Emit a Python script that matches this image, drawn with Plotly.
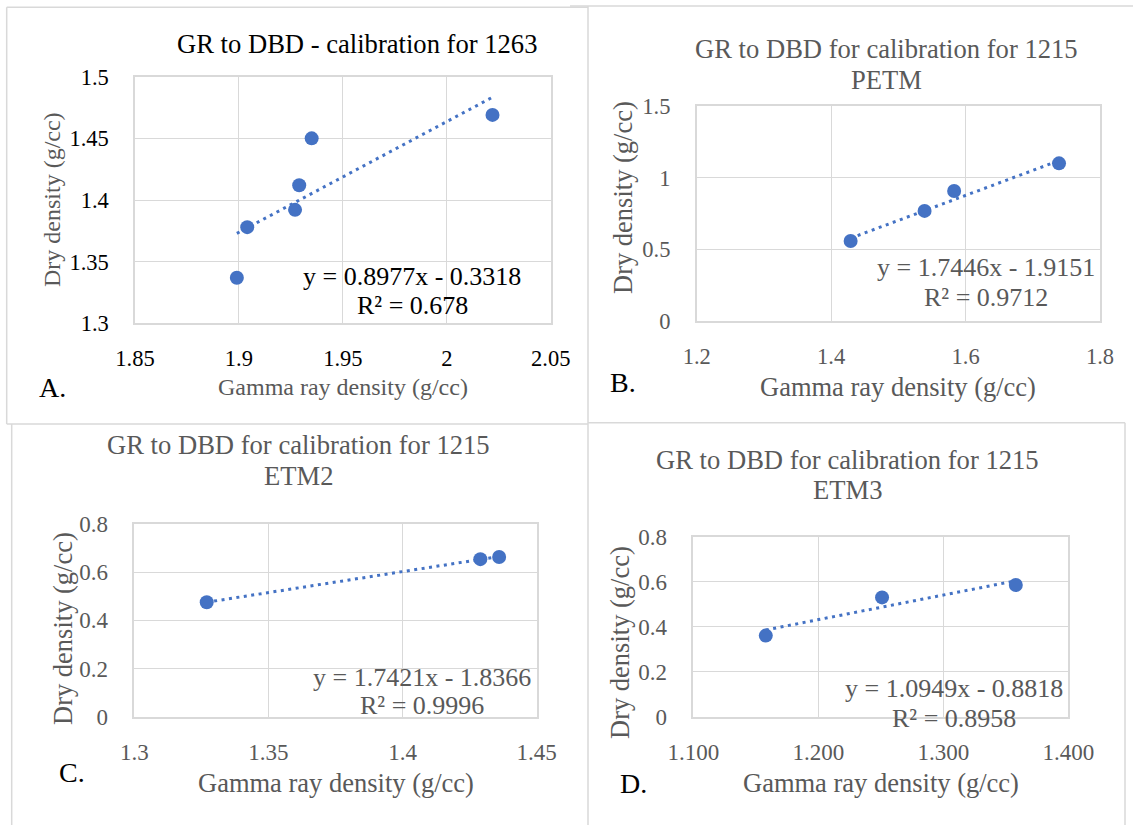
import plotly.graph_objects as go

W, H = 1133, 825

# ---------------- data ----------------
a_gr = [1.899, 1.904, 1.927, 1.929, 1.935, 2.022]
a_dbd = [1.337, 1.378, 1.392, 1.412, 1.450, 1.469]
b_gr = [1.429, 1.539, 1.583, 1.739]
b_dbd = [0.558, 0.768, 0.907, 1.100]
c_gr = [1.327, 1.429, 1.436]
c_dbd = [0.475, 0.654, 0.663]
d_gr = [1.158, 1.251, 1.358]
d_dbd = [0.361, 0.531, 0.586]

slopes = [0.8977, 1.7446, 1.7421, 1.0949]
intercepts = [-0.3318, -1.9151, -1.8366, -0.8818]
r2_labels = ["0.678", "0.9712", "0.9996", "0.8958"]

titles = [
    ["GR to DBD - calibration for 1263"],
    ["GR to DBD for calibration for 1215", "PETM"],
    ["GR to DBD for calibration for 1215", "ETM2"],
    ["GR to DBD for calibration for 1215", "ETM3"],
]
letters = ["A.", "B.", "C.", "D."]
x_title = "Gamma ray density (g/cc)"
y_title = "Dry density (g/cc)"

x_ranges = [[1.85, 2.05], [1.2, 1.8], [1.3, 1.45], [1.1, 1.4]]
x_dticks = [0.05, 0.2, 0.05, 0.1]
y_ranges = [[1.3, 1.5], [0, 1.5], [0, 0.8], [0, 0.8]]
y_dticks = [0.05, 0.5, 0.2, 0.2]
x_formats = ["", "", "", ".3f"]

# ---------------- layout geometry (pixels) ----------------
plot_boxes = [  # left, right, top, bottom
    (135, 550.7, 76.7, 323.3),
    (696.7, 1100, 106, 321),
    (134.3, 536.7, 524, 716.7),
    (693.3, 1068.3, 537, 716.7),
]

FONT = "Liberation Serif, Times New Roman, serif"
GRAY = "#595959"
BLACK = "#000000"
BLUE = "#4472C4"
GRID = "#d9d9d9"

def px(x):
    return x / W

def py(y):
    return 1 - y / H

series = [(a_gr, a_dbd), (b_gr, b_dbd), (c_gr, c_dbd), (d_gr, d_dbd)]

fig = go.Figure()
layout = dict(
    width=W, height=H,
    margin=dict(l=0, r=0, t=0, b=0, pad=0, autoexpand=False),
    paper_bgcolor="white", plot_bgcolor="white",
    showlegend=False,
)

tick_colors = [BLACK, GRAY, GRAY, GRAY]
tick_sizes = [22.5, 22.5, 23, 23]

for i, ((xs, ys), box) in enumerate(zip(series, plot_boxes)):
    n = "" if i == 0 else str(i + 1)
    xa, ya = "x" + n, "y" + n
    l, r, t, b = box
    # trendline from the stated regression over data range
    x0, x1 = min(xs), max(xs)
    fig.add_trace(go.Scatter(
        x=[x0, x1], y=[slopes[i] * x0 + intercepts[i], slopes[i] * x1 + intercepts[i]],
        mode="lines", line=dict(color=BLUE, width=3, dash="3px,4.5px"),
        xaxis=xa, yaxis=ya, hoverinfo="skip"))
    fig.add_trace(go.Scatter(
        x=xs, y=ys, mode="markers",
        marker=dict(color=BLUE, size=14),
        xaxis=xa, yaxis=ya))
    layout["xaxis" + n] = dict(
        domain=[px(l), px(r)], anchor=ya, range=x_ranges[i],
        tick0=x_ranges[i][0], dtick=x_dticks[i], tickformat=x_formats[i],
        showgrid=True, gridcolor=GRID, gridwidth=1,
        showline=True, linecolor=GRID, linewidth=1.5, mirror=True,
        zeroline=False, ticks="", automargin=False,
        tickfont=dict(family=FONT, size=tick_sizes[i], color=tick_colors[i]),
        ticklabelstandoff=14,
    )
    layout["yaxis" + n] = dict(
        domain=[py(b), py(t)], anchor=xa, range=y_ranges[i],
        tick0=y_ranges[i][0], dtick=y_dticks[i],
        showgrid=True, gridcolor=GRID, gridwidth=1,
        showline=True, linecolor=GRID, linewidth=1.5, mirror=True,
        zeroline=False, ticks="", automargin=False,
        tickfont=dict(family=FONT, size=tick_sizes[i], color=tick_colors[i]),
        ticklabelstandoff=20,
    )

fig.update_layout(**layout)

ann = []
def text(x, y, s, size, color, xanchor="center", angle=0):
    ann.append(dict(x=px(x), y=py(y), xref="paper", yref="paper", text=s,
                    showarrow=False, xanchor=xanchor, yanchor="middle",
                    textangle=angle,
                    font=dict(family=FONT, size=size, color=color)))

# titles
title_pos = [(357, [44]), (886, [49, 80]), (298, [445, 476]), (847, [460, 490])]
title_colors = [BLACK, GRAY, GRAY, GRAY]
for i, (cx, ys_) in enumerate(title_pos):
    for line, yy in zip(titles[i], ys_):
        text(cx, yy, line, 26.6, title_colors[i])

# axis titles
xt_pos = [(343, 387), (898, 387), (336, 783), (881, 783)]
yt_pos = [(52, 200), (623, 198), (63, 629), (620, 643)]
ax_sizes = [24, 26.5, 26.5, 26.5]
for i in range(4):
    text(xt_pos[i][0], xt_pos[i][1], x_title, ax_sizes[i], GRAY)
    text(yt_pos[i][0], yt_pos[i][1], y_title, ax_sizes[i], GRAY, angle=-90)

# letters
let_pos = [(37, 387), (608, 382), (57, 772), (618, 783)]
for i in range(4):
    text(let_pos[i][0], let_pos[i][1], letters[i], 28, BLACK, xanchor="left")

# equations
eq_pos = [(412, 277, 306), (986, 267, 297), (422, 677, 705), (954, 688, 718)]
eq_colors = [BLACK, GRAY, GRAY, GRAY]
for i in range(4):
    cx, y1, y2 = eq_pos[i]
    sign = "-" if intercepts[i] < 0 else "+"
    eq = f"y = {slopes[i]:.4f}x {sign} {abs(intercepts[i]):.4f}"
    text(cx, y1, eq, 26, eq_colors[i])
    text(cx, y2, f"R² = {r2_labels[i]}", 26, eq_colors[i])

fig.update_layout(annotations=ann)

# panel borders
BORDER = "#d9d9d9"
lines = [
    (6.7, 7.3, 588, 7.3), (6.7, 7.3, 6.7, 424), (6.7, 424, 588, 424),
    (570, 6, 1133, 6), (588, 6, 588, 825),
    (11.7, 424, 11.7, 825),
    (588, 422.7, 1125, 422.7), (1125, 422.7, 1125, 825),
]
shapes = []
for x0, y0, x1, y1 in lines:
    shapes.append(dict(type="line", xref="paper", yref="paper",
                       x0=px(x0), y0=py(y0), x1=px(x1), y1=py(y1),
                       line=dict(color=BORDER, width=1.5), layer="below"))
fig.update_layout(shapes=shapes)

fig.write_html("out.html")
